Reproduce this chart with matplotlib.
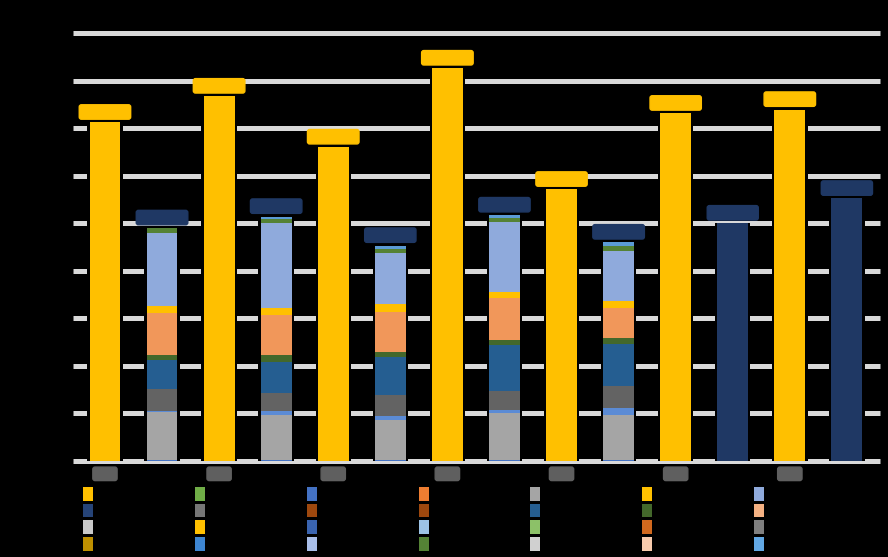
import matplotlib.pyplot as plt
import numpy as np
from matplotlib.patches import Patch

# categorias (14 posicoes, rotulo so nas pares)
tick_labels = ['G01', '', 'G02', '', 'G03', '', 'G04', '', 'G05', '', 'G06', '', 'G07', '']

# barras simples (amarelas e azul-marinho)
yellow_pos = [0, 2, 4, 6, 8, 10, 12]
yellow_vals = [7.12, 7.67, 6.60, 8.26, 5.71, 7.31, 7.39]
navy_pos = [11, 13]
navy_vals = [5.00, 5.52]

# barras empilhadas
stack_pos = [1, 3, 5, 7, 9]
seg_names = ['s1', 's2', 's3', 's4', 's5', 's6', 's7', 's8', 's9', 's10', 's11']
seg_colors = ['#4472C4', '#A5A5A5', '#5B8BD5', '#636363', '#255E91', '#43682B',
              '#F1975A', '#FFC000', '#8FAADC', '#548235', '#5B9BD5']
seg_vals = [
    [0.02, 0.02, 0.02, 0.02, 0.02],
    [1.00, 0.95, 0.84, 0.98, 0.95],
    [0.03, 0.08, 0.08, 0.07, 0.14],
    [0.46, 0.38, 0.44, 0.40, 0.46],
    [0.61, 0.65, 0.80, 0.97, 0.90],
    [0.10, 0.14, 0.12, 0.10, 0.12],
    [0.90, 0.84, 0.84, 0.88, 0.63],
    [0.13, 0.15, 0.16, 0.14, 0.15],
    [1.55, 1.80, 1.07, 1.46, 1.05],
    [0.10, 0.08, 0.08, 0.08, 0.10],
    [0.00, 0.05, 0.08, 0.07, 0.08],
]

# legenda: grade 4 linhas x 7 colunas (leitura por linha)
legend_colors = [
    '#FFC000', '#70AD47', '#4472C4', '#ED7D31', '#A5A5A5', '#FFC000', '#8FAADC',
    '#264478', '#767676', '#9E480E', '#9E480E', '#255E91', '#43682B', '#F4B183',
    '#C9C9C9', '#FFC000', '#3A64B0', '#9DC3E6', '#8CC168', '#D2691E', '#7F7F7F',
    '#BF9000', '#3D85D1', '#A9BFEA', '#548235', '#D0D0D0', '#F8CBAD', '#62A8E5',
]
legend_labels = ['Serie %02d' % (i + 1) for i in range(len(legend_colors))]

YELLOW = '#FFC000'
NAVY = '#1F3864'
W = 0.54

fig = plt.figure(figsize=(8.88, 5.57), dpi=100, facecolor='black')
ax = fig.add_axes([73/888, 1 - 461/557, 807/888, 428/557])
ax.set_facecolor('black')
ax.set_xlim(-0.56, 13.58)
ax.set_ylim(0, 9)

# linhas de grade grossas
for y in range(0, 10):
    ax.axhline(y, color='#D9D9D9', lw=3.6, zorder=1, clip_on=False, solid_capstyle='butt')

def label(x, top, color):
    ax.annotate('{:,.1f}'.format(top * 1000), (x, top), xytext=(0, 7.5), textcoords='offset points',
                ha='center', va='center', fontsize=8, fontweight='bold', color=color,
                bbox=dict(boxstyle='round,pad=0.2', fc=color, ec=color), zorder=5)

# halo preto em volta das barras
ax.bar(yellow_pos, yellow_vals, width=W + 0.08, color='black', zorder=2)
ax.bar(navy_pos, navy_vals, width=W + 0.08, color='black', zorder=2)
totals = np.sum(seg_vals, axis=0)
ax.bar(stack_pos, totals, width=W + 0.08, color='black', zorder=2)

ax.bar(yellow_pos, yellow_vals, width=W, color=YELLOW, zorder=3)
ax.bar(navy_pos, navy_vals, width=W, color=NAVY, zorder=3)
bottom = np.zeros(len(stack_pos))
for name, col, vals in zip(seg_names, seg_colors, seg_vals):
    ax.bar(stack_pos, vals, width=W, bottom=bottom, color=col, zorder=3)
    bottom += np.array(vals)

for x, v in zip(yellow_pos, yellow_vals):
    label(x, v, YELLOW)
for x, v in zip(navy_pos, navy_vals):
    label(x, v, NAVY)
for x, v in zip(stack_pos, totals):
    label(x, v, NAVY)

ax.set_xticks(range(14))
ax.set_xticklabels(tick_labels, fontsize=6.5, fontweight='bold', color='#5F5F5F')
for t in ax.get_xticklabels():
    if t.get_text():
        t.set_bbox(dict(boxstyle='round,pad=0.25', fc='#5F5F5F', ec='#5F5F5F'))
ax.tick_params(axis='x', length=0, pad=6)
ax.set_yticks([])
for s in ax.spines.values():
    s.set_visible(False)

# legenda em ordem por coluna
order = [r * 7 + c for c in range(7) for r in range(4)]
handles = [Patch(facecolor=legend_colors[i], edgecolor='none') for i in order]
labels = [legend_labels[i] for i in order]
fig.legend(handles, labels, ncol=7, loc='upper left', bbox_to_anchor=(83/888, 1 - 487/557),
           frameon=False, fontsize=8, labelcolor='black', handlelength=0.9,
           handleheight=1.5, handletextpad=0.4, labelspacing=0.28, columnspacing=4.6,
           borderpad=0, borderaxespad=0)

fig.savefig('out.png', dpi=100, facecolor='black')
